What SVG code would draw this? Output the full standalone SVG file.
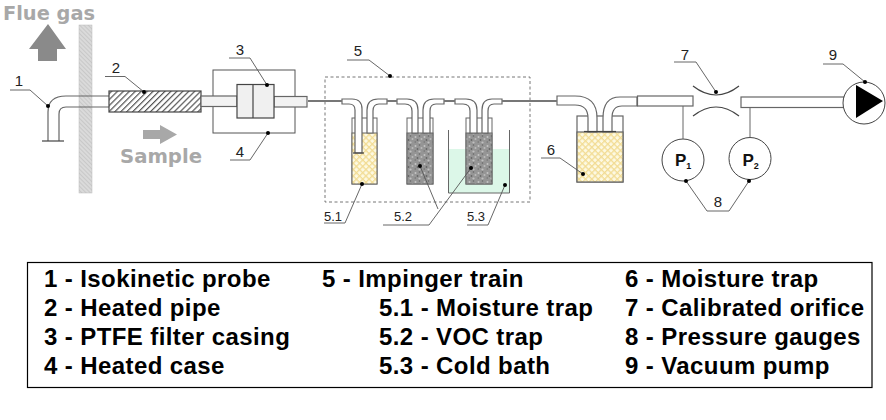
<svg xmlns="http://www.w3.org/2000/svg" width="886" height="420" viewBox="0 0 886 420">
<style>
.pipe{fill:#fff;stroke:#666;stroke-width:1.2}
.ln{fill:none;stroke:#666;stroke-width:1}
.dk{fill:none;stroke:#444;stroke-width:1.2}
.ld{fill:none;stroke:#555;stroke-width:0.9}
.dot{fill:#000}
.num{font-family:"Liberation Sans",Arial,sans-serif;font-size:15px;fill:#222;text-anchor:middle}
.sub{font-size:13px}
.leg{font-family:"Liberation Sans",Arial,sans-serif;font-size:24px;font-weight:bold;fill:#000;letter-spacing:0.4px}
.big{font-family:"DejaVu Sans",sans-serif;font-weight:bold;fill:#a8a8a8}
.p{font-family:"Liberation Sans",Arial,sans-serif;font-weight:bold;font-size:17px;fill:#111}
</style>
<defs>
<pattern id="hatch" width="4.200" height="4.200" patternUnits="userSpaceOnUse" patternTransform="rotate(-45)"><rect width="4.200" height="4.200" fill="#fff"/><rect width="4.200" height="1.200" fill="#555"/></pattern>
<pattern id="wall" width="3" height="3" patternUnits="userSpaceOnUse" patternTransform="rotate(45)"><rect width="3" height="3" fill="#dadada"/><rect width="3" height="1" fill="#c8c8c8"/></pattern>
<pattern id="cross" width="4.500" height="4.500" patternUnits="userSpaceOnUse" patternTransform="rotate(45)"><rect width="4.500" height="4.500" fill="#fdf9e2"/><rect width="4.500" height="1.300" fill="#f2dc94"/><rect width="1.300" height="4.500" fill="#f2dc94"/></pattern>
<pattern id="grain" width="9" height="9" patternUnits="userSpaceOnUse"><rect width="9" height="9" fill="#959595"/><circle cx="1.500" cy="2" r="1" fill="#c4c4c4"/><circle cx="5.500" cy="1" r="0.800" fill="#666"/><circle cx="7.500" cy="4" r="1" fill="#bbb"/><circle cx="3.500" cy="5" r="0.900" fill="#666"/><circle cx="1.200" cy="7" r="0.700" fill="#6c6c6c"/><circle cx="5.500" cy="7.500" r="1.100" fill="#c0c0c0"/></pattern>
</defs>

<g id="flue-gas">
<text class="big" x="3" y="20" font-size="19" textLength="92" lengthAdjust="spacingAndGlyphs">Flue gas</text>
<polygon points="48,24 29,49 38,49 38,61 57,61 57,49 66,49" fill="#8a8a8a"/>
</g>
<g id="wall-node"><rect x="79" y="25" width="13" height="168" fill="url(#wall)" stroke="#bbb" stroke-width="0.5"/></g>
<g id="sample">
<polygon points="143,130 160,130 160,125 177,134.500 160,144 160,139 143,139" fill="#a8a8a8"/>
<text class="big" x="120" y="163" font-size="20" textLength="82" lengthAdjust="spacingAndGlyphs">Sample</text>
</g>

<g id="n1">
<path class="pipe" d="M48,141V112Q48,96 66,96H110V107H66Q59,107 59,114V141" style="fill:none"/>
<path class="dk" d="M42,141H64"/>
</g>
<g id="n2"><rect x="109" y="91" width="92" height="21" fill="url(#hatch)" stroke="#444" stroke-width="1.2"/></g>
<g id="n4"><rect x="213" y="70" width="82" height="63" fill="#fff" stroke="#555" stroke-width="1"/></g>
<g id="n3">
<rect class="pipe" x="201" y="96" width="36" height="10.500" style="fill:#f2f2f2"/>
<rect class="pipe" x="274" y="96.500" width="33" height="10.500" style="fill:#f2f2f2"/>
<rect x="237" y="84.500" width="37" height="33.500" fill="#f0f0f0" stroke="#444" stroke-width="1.2"/>
<path class="dk" d="M253,84.500V118"/>
</g>

<g id="n5"><rect x="325" y="77" width="205" height="125" fill="none" stroke="#666" stroke-width="0.9" stroke-dasharray="3,2.500"/></g>

<g id="n5-1">
<rect x="352" y="118" width="25" height="66" fill="#fff" stroke="#666"/>
<rect x="352" y="133" width="25" height="51" fill="url(#cross)" stroke="#666"/>
<path class="pipe" d="M342,99H352Q362,99 362,109V153H355V110Q355,104 349,104H342Z"/>
<path class="pipe" d="M387,99H378Q367,99 367,110V133H373V111Q373,104 379,104H387Z"/>
<path class="dk" d="M353,153H364"/>
</g>
<g id="n5-2">
<rect x="407" y="118" width="26" height="66" fill="#fff" stroke="#666"/>
<rect x="407" y="133" width="26" height="51" fill="url(#grain)" stroke="#666"/>
<path class="pipe" d="M397,99H407Q418,99 418,110V133H412V111Q412,104 405,104H397Z"/>
<path class="pipe" d="M444,99H434Q423,99 423,110V133H430V111Q430,104 436,104H444Z"/>
</g>
<g id="n5-3">
<path d="M448,149H509V193H448Z" fill="#dcf7e8"/>
<path class="ln" d="M448.500,130V193H509.500V130"/>
<rect x="466" y="118" width="26" height="66" fill="#fff" stroke="#666"/>
<rect x="466" y="133" width="26" height="51" fill="url(#grain)" stroke="#666"/>
<path class="pipe" d="M455,99H466Q477,99 477,110V133H470V111Q470,104 463,104H455Z"/>
<path class="pipe" d="M502,99H492Q482,99 482,110V133H488V111Q488,104 494,104H502Z"/>
</g>

<g id="n6">
<rect x="577" y="116" width="46" height="66" fill="#fff" stroke="#666" stroke-width="1.2"/>
<rect x="577" y="132" width="46" height="50" fill="url(#cross)" stroke="#666" stroke-width="1.2"/>
<path class="pipe" d="M557,96H575Q597,96 597,118V132H588V118Q588,105 575,105H557Z"/>
<path class="pipe" d="M637,97H620Q603,97 603,118V132H612V118Q612,106 622,106H637Z"/>
<path class="dk" d="M584,131.500H616"/>
</g>
<g id="n7">
<rect class="pipe" x="637.500" y="96" width="55.500" height="10"/>
<rect class="pipe" x="741" y="97" width="103" height="10.500"/>
<path class="dk" d="M693,86Q716,104 739,86"/>
<path class="dk" d="M693,116Q716,98 739,116"/>
</g>
<g id="n8">
<circle cx="683" cy="160" r="21" fill="#fff" stroke="#444" stroke-width="1"/>
<circle cx="750" cy="158.500" r="21" fill="#fff" stroke="#444" stroke-width="1"/>
<text class="p" x="675" y="166">P<tspan font-size="9" dy="3">1</tspan></text>
<text class="p" x="742.500" y="166">P<tspan font-size="9" dy="3">2</tspan></text>
</g>
<g id="n9">
<circle cx="864" cy="103" r="21" fill="#fff" stroke="#444" stroke-width="1"/>
<polygon points="856,85 883,101 856,118" fill="#000"/>
</g>

<g id="connectors">
<path d="M308,101H342M387,101H397M444,101H455M502,101H557" fill="none" stroke="#777" stroke-width="2"/>
<path class="ln" d="M683,106V139M750,107.500V137.500"/>
<path class="ld" d="M10,90H30L48,106M105,76.500H125L144,92M229,58H250L267,85M230,160H250L268,133M347,60H369L390,76M324,223H345L362,184M383,225H429L471,168M420,166L438,209M467,225H488L505,185M541,158H560L583,174M674,62H696L716,92M823,64H843L865,82M686,181L707,211H729L749,181"/>
<g class="dot">
<circle cx="48" cy="106" r="2"/><circle cx="144" cy="92" r="2"/><circle cx="267" cy="85" r="2"/><circle cx="268" cy="133" r="2"/><circle cx="390" cy="76" r="2"/><circle cx="362" cy="184" r="2"/><circle cx="420" cy="166" r="2"/><circle cx="471" cy="168" r="2"/><circle cx="505" cy="185" r="2"/><circle cx="583" cy="174" r="2"/><circle cx="716" cy="92" r="2"/><circle cx="865" cy="82" r="2"/><circle cx="686" cy="181" r="2"/><circle cx="749" cy="181" r="2"/>
</g>
</g>

<g id="labels">
<text class="num" x="19" y="86">1</text><text class="num" x="116" y="73">2</text><text class="num" x="240" y="55">3</text><text class="num" x="240" y="157">4</text><text class="num" x="358" y="56">5</text><text class="num sub" x="333" y="221">5.1</text><text class="num sub" x="403" y="221">5.2</text><text class="num sub" x="476" y="221">5.3</text><text class="num" x="551" y="155">6</text><text class="num" x="685" y="60">7</text><text class="num" x="833" y="60">9</text><text class="num" x="718" y="207">8</text>
</g>

<g id="legend">
<rect x="27.500" y="262.500" width="844.500" height="125" fill="#fff" stroke="#000" stroke-width="1.200"/>
<text class="leg" x="44" y="287">1 - Isokinetic probe</text>
<text class="leg" x="44" y="316">2 - Heated pipe</text>
<text class="leg" x="44" y="345">3 - PTFE filter casing</text>
<text class="leg" x="44" y="374">4 - Heated case</text>
<text class="leg" x="322" y="287">5 - Impinger train</text>
<text class="leg" x="379" y="316">5.1 - Moisture trap</text>
<text class="leg" x="379" y="345">5.2 - VOC trap</text>
<text class="leg" x="379" y="374">5.3 - Cold bath</text>
<text class="leg" x="625" y="287">6 - Moisture trap</text>
<text class="leg" x="625" y="316">7 - Calibrated orifice</text>
<text class="leg" x="625" y="345">8 - Pressure gauges</text>
<text class="leg" x="625" y="374">9 - Vacuum pump</text>
</g>
</svg>
